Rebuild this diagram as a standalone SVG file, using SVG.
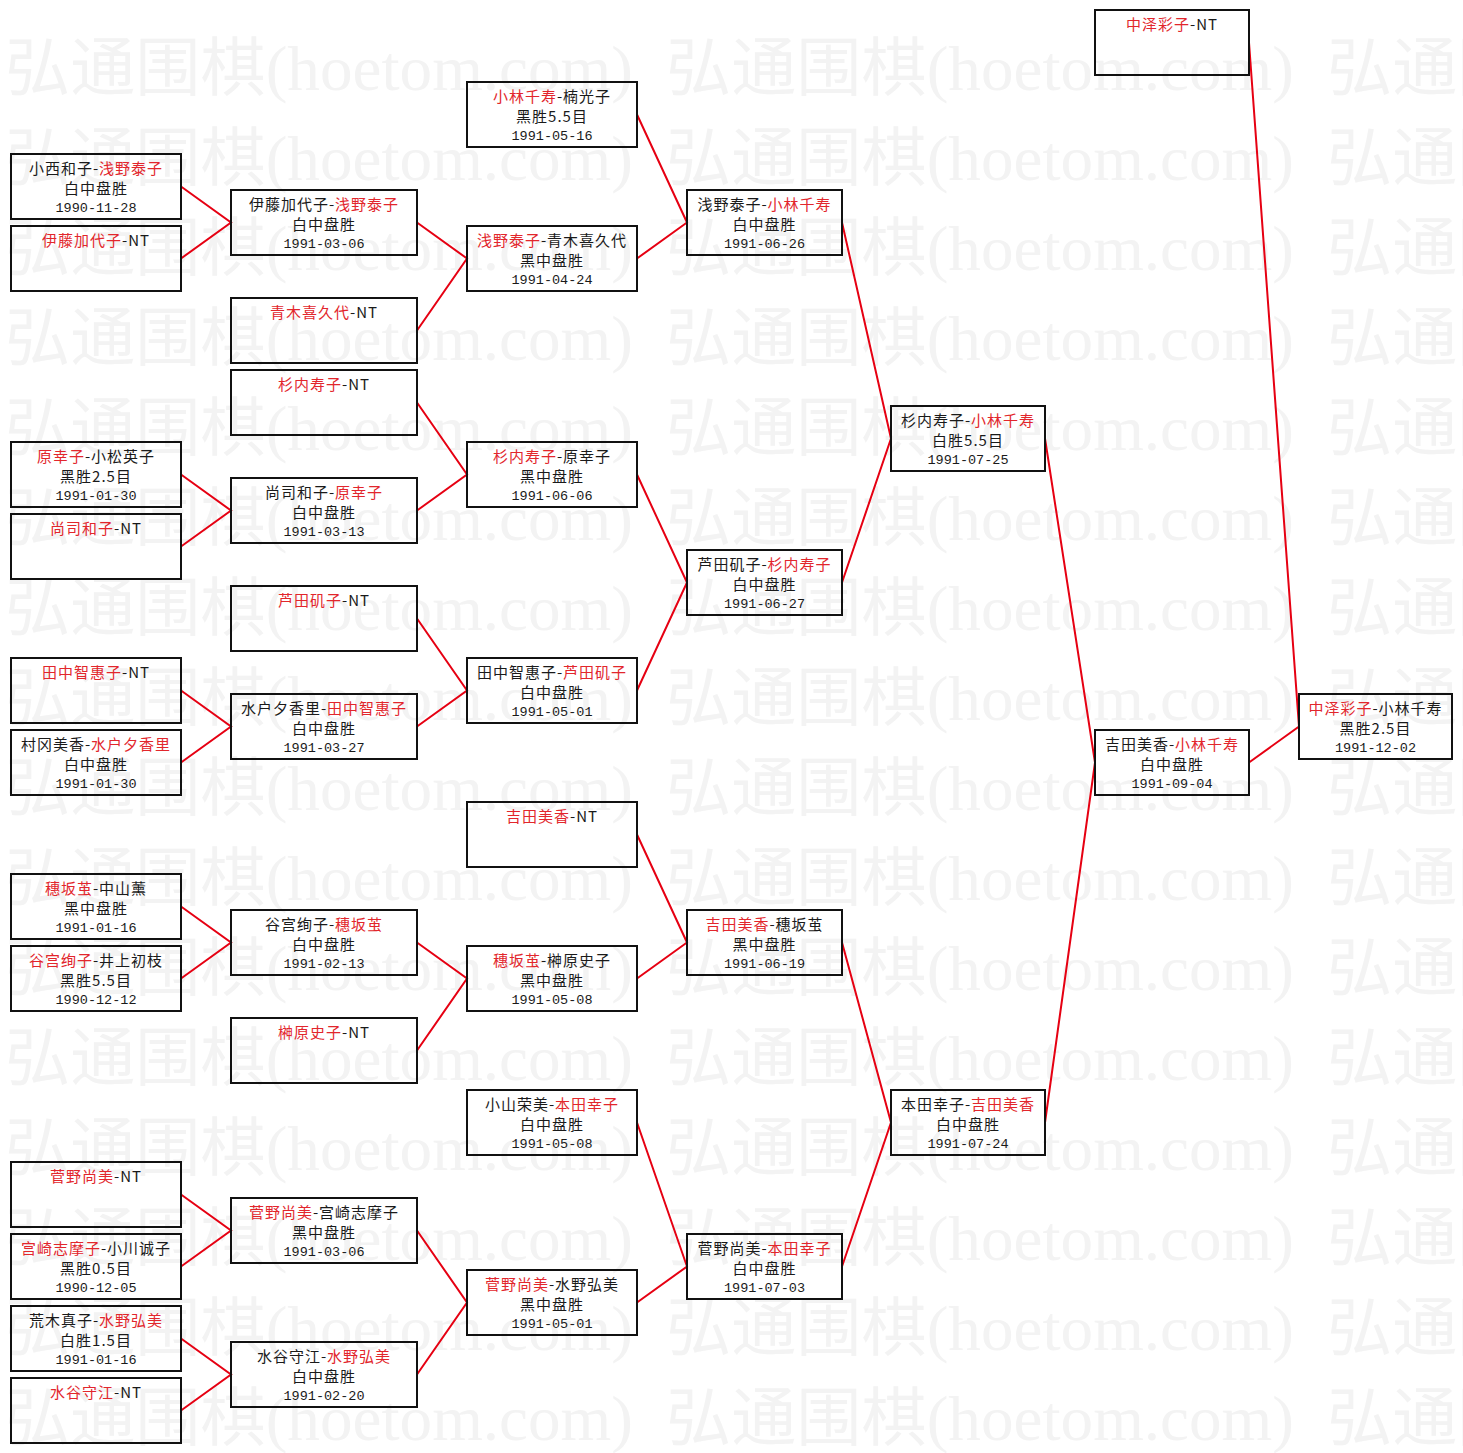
<svg xmlns="http://www.w3.org/2000/svg" xmlns:xlink="http://www.w3.org/1999/xlink" width="1463" height="1453" viewBox="0 0 1463 1453">
<style>
.wm{font-family:"Liberation Serif","Noto Sans CJK SC",serif;font-size:64px;fill:#f3f3f3}
.box rect{fill:none;stroke:#111;stroke-width:2}
.box text{font-family:"Noto Sans CJK SC",sans-serif;font-size:15px;letter-spacing:1px;fill:#1a1a1a;text-anchor:middle}
.box text.d{font-family:"Liberation Mono","DejaVu Sans Mono",monospace;font-size:13.5px;letter-spacing:0}
.r{fill:#e2262c}
#connectors polyline{fill:none;stroke:#e60012;stroke-width:2}
</style>
<defs>
<text id="wm" class="wm" textLength="628" lengthAdjust="spacingAndGlyphs">弘通围棋(hoetom.com)</text>
</defs>
<rect x="0" y="0" width="1463" height="1453" fill="#ffffff"/>
<g id="watermark">
<use xlink:href="#wm" x="5" y="90"/><use xlink:href="#wm" x="666" y="90"/><use xlink:href="#wm" x="1327" y="90"/>
<use xlink:href="#wm" x="5" y="180"/><use xlink:href="#wm" x="666" y="180"/><use xlink:href="#wm" x="1327" y="180"/>
<use xlink:href="#wm" x="5" y="270"/><use xlink:href="#wm" x="666" y="270"/><use xlink:href="#wm" x="1327" y="270"/>
<use xlink:href="#wm" x="5" y="360"/><use xlink:href="#wm" x="666" y="360"/><use xlink:href="#wm" x="1327" y="360"/>
<use xlink:href="#wm" x="5" y="450"/><use xlink:href="#wm" x="666" y="450"/><use xlink:href="#wm" x="1327" y="450"/>
<use xlink:href="#wm" x="5" y="540"/><use xlink:href="#wm" x="666" y="540"/><use xlink:href="#wm" x="1327" y="540"/>
<use xlink:href="#wm" x="5" y="630"/><use xlink:href="#wm" x="666" y="630"/><use xlink:href="#wm" x="1327" y="630"/>
<use xlink:href="#wm" x="5" y="720"/><use xlink:href="#wm" x="666" y="720"/><use xlink:href="#wm" x="1327" y="720"/>
<use xlink:href="#wm" x="5" y="810"/><use xlink:href="#wm" x="666" y="810"/><use xlink:href="#wm" x="1327" y="810"/>
<use xlink:href="#wm" x="5" y="900"/><use xlink:href="#wm" x="666" y="900"/><use xlink:href="#wm" x="1327" y="900"/>
<use xlink:href="#wm" x="5" y="990"/><use xlink:href="#wm" x="666" y="990"/><use xlink:href="#wm" x="1327" y="990"/>
<use xlink:href="#wm" x="5" y="1080"/><use xlink:href="#wm" x="666" y="1080"/><use xlink:href="#wm" x="1327" y="1080"/>
<use xlink:href="#wm" x="5" y="1170"/><use xlink:href="#wm" x="666" y="1170"/><use xlink:href="#wm" x="1327" y="1170"/>
<use xlink:href="#wm" x="5" y="1260"/><use xlink:href="#wm" x="666" y="1260"/><use xlink:href="#wm" x="1327" y="1260"/>
<use xlink:href="#wm" x="5" y="1350"/><use xlink:href="#wm" x="666" y="1350"/><use xlink:href="#wm" x="1327" y="1350"/>
<use xlink:href="#wm" x="5" y="1440"/><use xlink:href="#wm" x="666" y="1440"/><use xlink:href="#wm" x="1327" y="1440"/>
</g>

<g id="connectors">
<polyline points="181,186.5 231,222.5 181,258.5"/>
<polyline points="417,222.5 467,258.5 417,330.5"/>
<polyline points="637,114.5 687,222.5 637,258.5"/>
<polyline points="181,474.5 231,510.5 181,546.5"/>
<polyline points="417,402.5 467,474.5 417,510.5"/>
<polyline points="181,690.5 231,726.5 181,762.5"/>
<polyline points="417,618.5 467,690.5 417,726.5"/>
<polyline points="637,474.5 687,582.5 637,690.5"/>
<polyline points="842,222.5 891,438.5 842,582.5"/>
<polyline points="181,906.5 231,942.5 181,978.5"/>
<polyline points="417,942.5 467,978.5 417,1050.5"/>
<polyline points="637,834.5 687,942.5 637,978.5"/>
<polyline points="181,1194.5 231,1230.5 181,1266.5"/>
<polyline points="181,1338.5 231,1374.5 181,1410.5"/>
<polyline points="417,1230.5 467,1302.5 417,1374.5"/>
<polyline points="637,1122.5 687,1266.5 637,1302.5"/>
<polyline points="842,942.5 891,1122.5 842,1266.5"/>
<polyline points="1045,438.5 1095,762.5 1045,1122.5"/>
<polyline points="1249,42.5 1299,726.5 1249,762.5"/>
</g>

<!-- Column 1 -->
<g id="r1-1" class="box"><rect x="11" y="154" width="170" height="65"/>
<text x="96" y="173.5">小西和子-<tspan class="r">浅野泰子</tspan></text><text x="96" y="193.5">白中盘胜</text><text class="d" x="96" y="212">1990-11-28</text></g>
<g id="r1-2" class="box"><rect x="11" y="226" width="170" height="65"/>
<text x="96" y="245.5"><tspan class="r">伊藤加代子</tspan>-NT</text></g>
<g id="r1-3" class="box"><rect x="11" y="442" width="170" height="65"/>
<text x="96" y="461.5"><tspan class="r">原幸子</tspan>-小松英子</text><text x="96" y="481.5">黑胜2.5目</text><text class="d" x="96" y="500">1991-01-30</text></g>
<g id="r1-4" class="box"><rect x="11" y="514" width="170" height="65"/>
<text x="96" y="533.5"><tspan class="r">尚司和子</tspan>-NT</text></g>
<g id="r1-5" class="box"><rect x="11" y="658" width="170" height="65"/>
<text x="96" y="677.5"><tspan class="r">田中智惠子</tspan>-NT</text></g>
<g id="r1-6" class="box"><rect x="11" y="730" width="170" height="65"/>
<text x="96" y="749.5">村冈美香-<tspan class="r">水户夕香里</tspan></text><text x="96" y="769.5">白中盘胜</text><text class="d" x="96" y="788">1991-01-30</text></g>
<g id="r1-7" class="box"><rect x="11" y="874" width="170" height="65"/>
<text x="96" y="893.5"><tspan class="r">穗坂茧</tspan>-中山薰</text><text x="96" y="913.5">黑中盘胜</text><text class="d" x="96" y="932">1991-01-16</text></g>
<g id="r1-8" class="box"><rect x="11" y="946" width="170" height="65"/>
<text x="96" y="965.5"><tspan class="r">谷宫绚子</tspan>-井上初枝</text><text x="96" y="985.5">黑胜5.5目</text><text class="d" x="96" y="1004">1990-12-12</text></g>
<g id="r1-9" class="box"><rect x="11" y="1162" width="170" height="65"/>
<text x="96" y="1181.5"><tspan class="r">菅野尚美</tspan>-NT</text></g>
<g id="r1-10" class="box"><rect x="11" y="1234" width="170" height="65"/>
<text x="96" y="1253.5"><tspan class="r">宫崎志摩子</tspan>-小川诚子</text><text x="96" y="1273.5">黑胜0.5目</text><text class="d" x="96" y="1292">1990-12-05</text></g>
<g id="r1-11" class="box"><rect x="11" y="1306" width="170" height="65"/>
<text x="96" y="1325.5">荒木真子-<tspan class="r">水野弘美</tspan></text><text x="96" y="1345.5">白胜1.5目</text><text class="d" x="96" y="1364">1991-01-16</text></g>
<g id="r1-12" class="box"><rect x="11" y="1378" width="170" height="65"/>
<text x="96" y="1397.5"><tspan class="r">水谷守江</tspan>-NT</text></g>

<!-- Column 2 -->
<g id="r2-1" class="box"><rect x="231" y="190" width="186" height="65"/>
<text x="324" y="209.5">伊藤加代子-<tspan class="r">浅野泰子</tspan></text><text x="324" y="229.5">白中盘胜</text><text class="d" x="324" y="248">1991-03-06</text></g>
<g id="r2-2" class="box"><rect x="231" y="298" width="186" height="65"/>
<text x="324" y="317.5"><tspan class="r">青木喜久代</tspan>-NT</text></g>
<g id="r2-3" class="box"><rect x="231" y="370" width="186" height="65"/>
<text x="324" y="389.5"><tspan class="r">杉内寿子</tspan>-NT</text></g>
<g id="r2-4" class="box"><rect x="231" y="478" width="186" height="65"/>
<text x="324" y="497.5">尚司和子-<tspan class="r">原幸子</tspan></text><text x="324" y="517.5">白中盘胜</text><text class="d" x="324" y="536">1991-03-13</text></g>
<g id="r2-5" class="box"><rect x="231" y="586" width="186" height="65"/>
<text x="324" y="605.5"><tspan class="r">芦田矶子</tspan>-NT</text></g>
<g id="r2-6" class="box"><rect x="231" y="694" width="186" height="65"/>
<text x="324" y="713.5">水户夕香里-<tspan class="r">田中智惠子</tspan></text><text x="324" y="733.5">白中盘胜</text><text class="d" x="324" y="752">1991-03-27</text></g>
<g id="r2-7" class="box"><rect x="231" y="910" width="186" height="65"/>
<text x="324" y="929.5">谷宫绚子-<tspan class="r">穗坂茧</tspan></text><text x="324" y="949.5">白中盘胜</text><text class="d" x="324" y="968">1991-02-13</text></g>
<g id="r2-8" class="box"><rect x="231" y="1018" width="186" height="65"/>
<text x="324" y="1037.5"><tspan class="r">榊原史子</tspan>-NT</text></g>
<g id="r2-9" class="box"><rect x="231" y="1198" width="186" height="65"/>
<text x="324" y="1217.5"><tspan class="r">菅野尚美</tspan>-宫崎志摩子</text><text x="324" y="1237.5">黑中盘胜</text><text class="d" x="324" y="1256">1991-03-06</text></g>
<g id="r2-10" class="box"><rect x="231" y="1342" width="186" height="65"/>
<text x="324" y="1361.5">水谷守江-<tspan class="r">水野弘美</tspan></text><text x="324" y="1381.5">白中盘胜</text><text class="d" x="324" y="1400">1991-02-20</text></g>

<!-- Column 3 -->
<g id="r3-1" class="box"><rect x="467" y="82" width="170" height="65"/>
<text x="552" y="101.5"><tspan class="r">小林千寿</tspan>-楠光子</text><text x="552" y="121.5">黑胜5.5目</text><text class="d" x="552" y="140">1991-05-16</text></g>
<g id="r3-2" class="box"><rect x="467" y="226" width="170" height="65"/>
<text x="552" y="245.5"><tspan class="r">浅野泰子</tspan>-青木喜久代</text><text x="552" y="265.5">黑中盘胜</text><text class="d" x="552" y="284">1991-04-24</text></g>
<g id="r3-3" class="box"><rect x="467" y="442" width="170" height="65"/>
<text x="552" y="461.5"><tspan class="r">杉内寿子</tspan>-原幸子</text><text x="552" y="481.5">黑中盘胜</text><text class="d" x="552" y="500">1991-06-06</text></g>
<g id="r3-4" class="box"><rect x="467" y="658" width="170" height="65"/>
<text x="552" y="677.5">田中智惠子-<tspan class="r">芦田矶子</tspan></text><text x="552" y="697.5">白中盘胜</text><text class="d" x="552" y="716">1991-05-01</text></g>
<g id="r3-5" class="box"><rect x="467" y="802" width="170" height="65"/>
<text x="552" y="821.5"><tspan class="r">吉田美香</tspan>-NT</text></g>
<g id="r3-6" class="box"><rect x="467" y="946" width="170" height="65"/>
<text x="552" y="965.5"><tspan class="r">穗坂茧</tspan>-榊原史子</text><text x="552" y="985.5">黑中盘胜</text><text class="d" x="552" y="1004">1991-05-08</text></g>
<g id="r3-7" class="box"><rect x="467" y="1090" width="170" height="65"/>
<text x="552" y="1109.5">小山荣美-<tspan class="r">本田幸子</tspan></text><text x="552" y="1129.5">白中盘胜</text><text class="d" x="552" y="1148">1991-05-08</text></g>
<g id="r3-8" class="box"><rect x="467" y="1270" width="170" height="65"/>
<text x="552" y="1289.5"><tspan class="r">菅野尚美</tspan>-水野弘美</text><text x="552" y="1309.5">黑中盘胜</text><text class="d" x="552" y="1328">1991-05-01</text></g>

<!-- Column 4 -->
<g id="r4-1" class="box"><rect x="687" y="190" width="155" height="65"/>
<text x="764.5" y="209.5">浅野泰子-<tspan class="r">小林千寿</tspan></text><text x="764.5" y="229.5">白中盘胜</text><text class="d" x="764.5" y="248">1991-06-26</text></g>
<g id="r4-2" class="box"><rect x="687" y="550" width="155" height="65"/>
<text x="764.5" y="569.5">芦田矶子-<tspan class="r">杉内寿子</tspan></text><text x="764.5" y="589.5">白中盘胜</text><text class="d" x="764.5" y="608">1991-06-27</text></g>
<g id="r4-3" class="box"><rect x="687" y="910" width="155" height="65"/>
<text x="764.5" y="929.5"><tspan class="r">吉田美香</tspan>-穗坂茧</text><text x="764.5" y="949.5">黑中盘胜</text><text class="d" x="764.5" y="968">1991-06-19</text></g>
<g id="r4-4" class="box"><rect x="687" y="1234" width="155" height="65"/>
<text x="764.5" y="1253.5">菅野尚美-<tspan class="r">本田幸子</tspan></text><text x="764.5" y="1273.5">白中盘胜</text><text class="d" x="764.5" y="1292">1991-07-03</text></g>

<!-- Column 5 -->
<g id="r5-1" class="box"><rect x="891" y="406" width="154" height="65"/>
<text x="968" y="425.5">杉内寿子-<tspan class="r">小林千寿</tspan></text><text x="968" y="445.5">白胜5.5目</text><text class="d" x="968" y="464">1991-07-25</text></g>
<g id="r5-2" class="box"><rect x="891" y="1090" width="154" height="65"/>
<text x="968" y="1109.5">本田幸子-<tspan class="r">吉田美香</tspan></text><text x="968" y="1129.5">白中盘胜</text><text class="d" x="968" y="1148">1991-07-24</text></g>

<!-- Column 6 -->
<g id="r6-1" class="box"><rect x="1095" y="10" width="154" height="65"/>
<text x="1172" y="29.5"><tspan class="r">中泽彩子</tspan>-NT</text></g>
<g id="r6-2" class="box"><rect x="1095" y="730" width="154" height="65"/>
<text x="1172" y="749.5">吉田美香-<tspan class="r">小林千寿</tspan></text><text x="1172" y="769.5">白中盘胜</text><text class="d" x="1172" y="788">1991-09-04</text></g>

<!-- Column 7 -->
<g id="r7-1" class="box"><rect x="1299" y="694" width="153" height="65"/>
<text x="1375.5" y="713.5"><tspan class="r">中泽彩子</tspan>-小林千寿</text><text x="1375.5" y="733.5">黑胜2.5目</text><text class="d" x="1375.5" y="752">1991-12-02</text></g>
</svg>
